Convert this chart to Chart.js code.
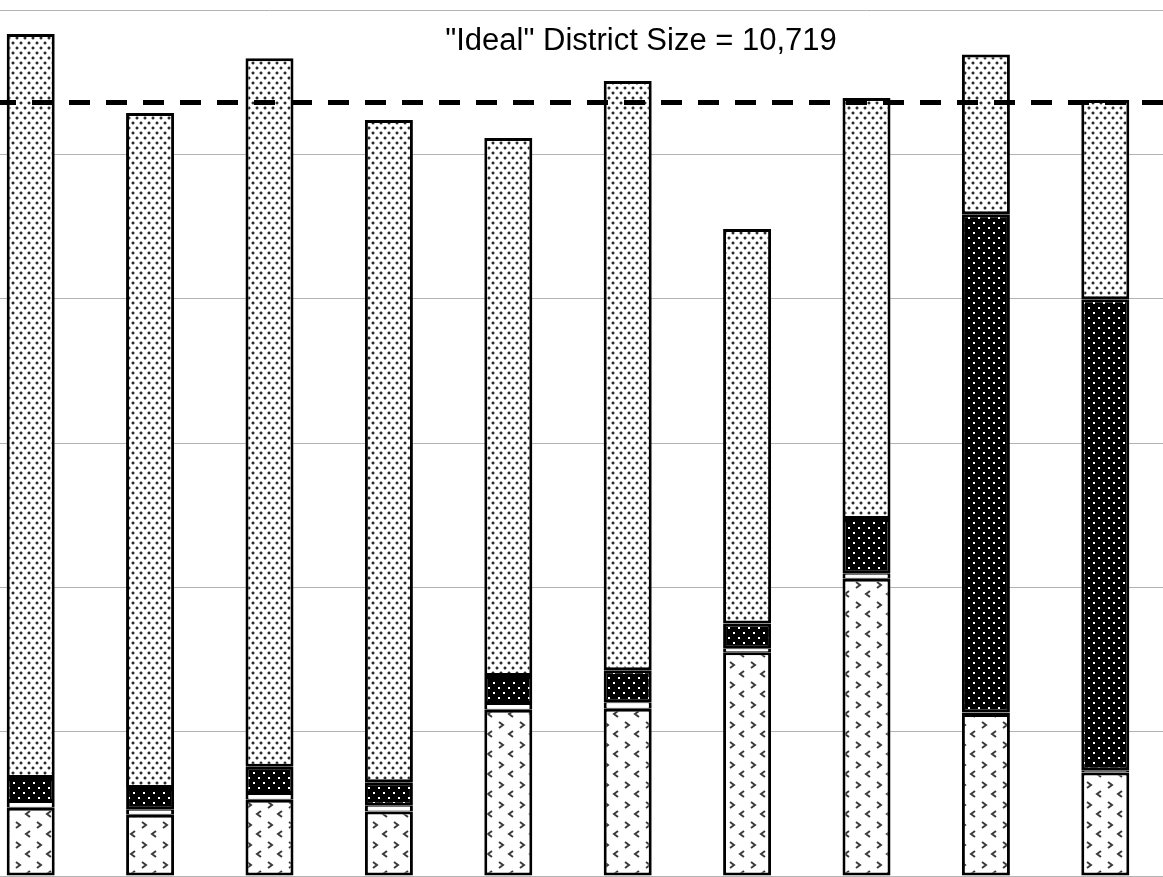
<!DOCTYPE html>
<html>
<head>
<meta charset="utf-8">
<script src="https://cdn.jsdelivr.net/npm/chart.js@4/dist/chart.umd.min.js"></script>
<style>
  html, body { margin: 0; padding: 0; background: #fff; overflow: hidden; width: 1163px; height: 877px; }
  #wrap { position: absolute; left: -29px; top: 0; width: 1194px; height: 886px; }
</style>
</head>
<body>
<div id="wrap"><canvas id="c"></canvas></div>
<script>
// ---- data ----
const categories = ["1", "2", "3", "4", "5", "6", "7", "8", "9", "10"];
const seriesBottom = [946, 849, 1057, 895, 2303, 2317, 3102, 4118, 2244, 1435];   // chevron pattern
const seriesBand   = [80, 70, 80, 80, 80, 90, 55, 70, 20, 30];                      // thin white band
const seriesDark   = [332, 300, 378, 323, 388, 443, 342, 758, 6907, 6528];          // black with white dots
const seriesTop    = [10308, 9353, 9818, 9177, 7455, 8165, 5466, 5834, 2214, 2759];  // light dotted
const idealSize = 10719;
const idealLabel = '"Ideal" District Size = 10,719';
const yTicks = [0, 2000, 4000, 6000, 8000, 10000, 12000];

// ---- patterns ----
function makePattern(w, h, bg, draw) {
  const c = document.createElement('canvas');
  c.width = w; c.height = h;
  const g = c.getContext('2d');
  g.fillStyle = bg; g.fillRect(0, 0, w, h);
  draw(g);
  return document.getElementById('c').getContext('2d').createPattern(c, 'repeat');
}
const lightDots = makePattern(8, 10, '#ffffff', g => {
  g.fillStyle = '#b0b0b0';
  g.fillRect(0, 1, 4, 4);
  g.fillRect(4, 6, 4, 4);
  g.fillStyle = '#ffffff';
  g.fillRect(0, 1, 1, 1); g.fillRect(3, 1, 1, 1); g.fillRect(0, 4, 1, 1); g.fillRect(3, 4, 1, 1);
  g.fillRect(4, 6, 1, 1); g.fillRect(7, 6, 1, 1); g.fillRect(4, 9, 1, 1); g.fillRect(7, 9, 1, 1);
  g.fillStyle = '#2a2a2a';
  g.fillRect(1, 2, 2, 2);
  g.fillRect(5, 7, 2, 2);
});
const darkDots = makePattern(10, 10, '#000000', g => {
  g.fillStyle = '#ffffff';
  g.fillRect(2, 2, 2, 2);
  g.fillRect(7, 7, 2, 2);
});
const chevrons = makePattern(21, 20, '#ffffff', g => {
  g.strokeStyle = '#3a3a3a';
  g.lineWidth = 2;
  g.beginPath();
  g.moveTo(3, 2); g.lineTo(7, 5); g.lineTo(3, 8);       // ">"
  g.moveTo(17, 11); g.lineTo(13, 14); g.lineTo(17, 17); // "<"
  g.stroke();
});

const idealPlugin = {
  id: 'ideal',
  afterDatasetsDraw(chart) {
    const ctx = chart.ctx;
    const y = chart.scales.y.getPixelForValue(idealSize);
    ctx.save();
    ctx.strokeStyle = '#000';
    ctx.lineWidth = 5;
    ctx.setLineDash([21, 16]);
    ctx.beginPath();
    ctx.moveTo(-13, y);
    ctx.lineTo(chart.width, y);
    ctx.stroke();
    ctx.setLineDash([]);
    ctx.fillStyle = '#000';
    ctx.font = '31px "Liberation Sans", Arial, sans-serif';
    ctx.textAlign = 'center';
    ctx.textBaseline = 'alphabetic';
    ctx.fillText(idealLabel, 670, 50);
    ctx.restore();
  }
};

const common = { borderColor: '#000', borderWidth: 3, borderSkipped: false, barPercentage: 0.402, categoryPercentage: 1.0 };

new Chart(document.getElementById('c'), {
  type: 'bar',
  data: {
    labels: categories,
    datasets: [
      Object.assign({ label: 'A', data: seriesBottom, backgroundColor: chevrons }, common),
      Object.assign({}, common, { label: 'B', data: seriesBand, backgroundColor: '#ffffff', borderWidth: { top: 1, bottom: 1, left: 3, right: 3 } }),
      Object.assign({ label: 'C', data: seriesDark, backgroundColor: darkDots }, common),
      Object.assign({ label: 'D', data: seriesTop, backgroundColor: lightDots }, common)
    ]
  },
  options: {
    responsive: true,
    maintainAspectRatio: false,
    animation: false,
    layout: { padding: { top: 10, left: 0, right: 0, bottom: 0 } },
    plugins: { legend: { display: false }, tooltip: { enabled: false }, title: { display: false } },
    scales: {
      x: {
        stacked: true,
        ticks: { display: false },
        grid: { drawOnChartArea: false, drawTicks: true, tickLength: 6, offset: true, color: '#b3b3b3' },
        border: { display: true, color: '#b3b3b3', width: 1 },
        afterFit(s) { s.height = 10; }
      },
      y: {
        stacked: true,
        min: yTicks[0],
        max: yTicks[yTicks.length - 1],
        afterBuildTicks(s) { s.ticks = yTicks.map(v => ({ value: v })); },
        ticks: { display: false },
        grid: { color: '#b3b3b3', lineWidth: 1, drawTicks: false },
        border: { display: false },
        afterFit(s) { s.width = 0; }
      }
    }
  },
  plugins: [idealPlugin]
});
</script>
</body>
</html>
